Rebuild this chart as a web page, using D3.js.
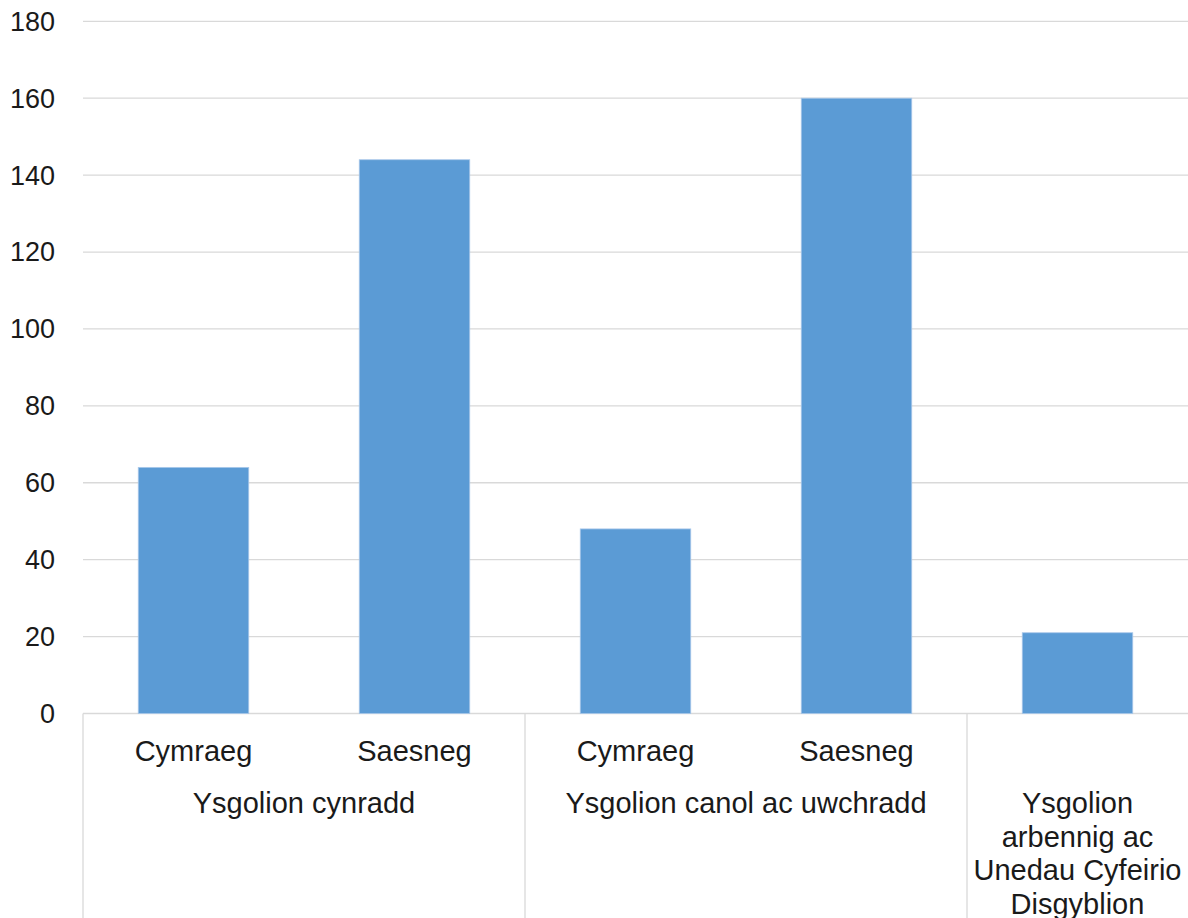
<!DOCTYPE html>
<html>
<head>
<meta charset="utf-8">
<script src="https://cdn.jsdelivr.net/npm/d3@7/dist/d3.min.js"></script>
<style>
  html, body { margin: 0; padding: 0; background: #fff; }
  svg { display: block; font-family: "Liberation Sans", Arial, sans-serif; }
</style>
</head>
<body>
<div id="chart"></div>
<script>
'use strict';

// leaf categories (one bar each) and the group each belongs to
const leafLabels = ['Cymraeg', 'Saesneg', 'Cymraeg', 'Saesneg', ''];
const leafGroup = [0, 0, 1, 1, 2];
const values = [64, 144, 48, 160, 21];

// group labels, already broken into lines as in the original
const groupLabels = [
  ['Ysgolion cynradd'],
  ['Ysgolion canol ac uwchradd'],
  ['Ysgolion', 'arbennig ac', 'Unedau Cyfeirio', 'Disgyblion']
];

const yTicks = [0, 20, 40, 60, 80, 100, 120, 140, 160, 180];

const width = 1188;
const height = 918;
const margin = { top: 21.3, right: 0, bottom: 204.5, left: 83 };
const tickFont = 27;
const labelFont = 29;

const svg = d3.select('#chart')
  .append('svg')
  .attr('width', width)
  .attr('height', height);

const y = d3.scaleLinear()
  .domain([0, 180])
  .range([height - margin.bottom, margin.top]);

const x = d3.scaleBand()
  .domain(d3.range(values.length))
  .range([margin.left, width - margin.right])
  .paddingInner(0.5)
  .paddingOuter(0.25);

const step = x.step();
const y0 = y(0);

// gridlines
svg.append('g')
  .selectAll('line')
  .data(yTicks)
  .join('line')
  .attr('x1', margin.left)
  .attr('x2', width - margin.right)
  .attr('y1', d => y(d))
  .attr('y2', d => y(d))
  .attr('stroke', '#d9d9d9')
  .attr('stroke-width', 1.3);

// y tick labels
svg.append('g')
  .selectAll('text')
  .data(yTicks)
  .join('text')
  .attr('x', 55)
  .attr('y', d => y(d))
  .attr('dy', '0.35em')
  .attr('text-anchor', 'end')
  .attr('font-size', tickFont)
  .attr('fill', '#1a1a1a')
  .text(d => d);

// bars
svg.append('g')
  .selectAll('rect')
  .data(values)
  .join('rect')
  .attr('x', (d, i) => x(i))
  .attr('width', x.bandwidth())
  .attr('y', d => y(d))
  .attr('height', d => y0 - y(d))
  .attr('fill', '#5b9bd5')
  .attr('stroke', '#a9c8ea')
  .attr('stroke-width', 0.8);

// group separators (multi-level category axis)
const groupStarts = groupLabels.map((g, gi) => leafGroup.indexOf(gi));
const groupEnds = groupLabels.map((g, gi) => leafGroup.lastIndexOf(gi) + 1);
const sepX = groupStarts.map(s => margin.left + s * step);

svg.append('g')
  .selectAll('line')
  .data(sepX)
  .join('line')
  .attr('x1', d => d)
  .attr('x2', d => d)
  .attr('y1', y0)
  .attr('y2', height)
  .attr('stroke', '#d9d9d9')
  .attr('stroke-width', 1.3);

// leaf labels
svg.append('g')
  .selectAll('text')
  .data(leafLabels)
  .join('text')
  .attr('x', (d, i) => x(i) + x.bandwidth() / 2)
  .attr('y', 761)
  .attr('text-anchor', 'middle')
  .attr('font-size', labelFont)
  .attr('fill', '#1a1a1a')
  .text(d => d);

// group labels
const gl = svg.append('g')
  .selectAll('text')
  .data(groupLabels)
  .join('text')
  .attr('x', (d, i) => margin.left + (groupStarts[i] + groupEnds[i]) / 2 * step)
  .attr('y', 813)
  .attr('text-anchor', 'middle')
  .attr('font-size', labelFont)
  .attr('fill', '#1a1a1a');

gl.selectAll('tspan')
  .data(d => d)
  .join('tspan')
  .attr('x', function() { return d3.select(this.parentNode).attr('x'); })
  .attr('dy', (d, i) => i === 0 ? 0 : 33.5)
  .text(d => d);
</script>
</body>
</html>
